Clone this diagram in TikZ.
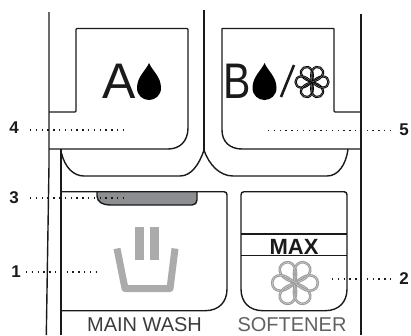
\documentclass[tikz,border=0pt]{standalone}
\usepackage{fontspec}
\setmainfont{Liberation Sans}
\definecolor{ink}{HTML}{1A1A1A}
\definecolor{tabgray}{HTML}{8C8E92}
\definecolor{icongray}{HTML}{ABABAB}
\definecolor{flowergray}{HTML}{9E9E9E}
\tikzset{
  wall/.style={draw=ink,line width=1.4pt,line join=round},
  lead/.style={draw=ink,line width=1.3pt,dash pattern=on 1.4pt off 4.4pt},
  num/.style={font=\bfseries\fontsize{17}{17}\selectfont,text=ink,inner sep=0pt},
  lab/.style={font=\fontsize{20}{20}\selectfont,inner sep=0pt,anchor=base},
  big/.style={font=\fontsize{50}{50}\selectfont,text=ink,inner sep=0pt,anchor=base},
  pics/drop/.style={code={\fill[black] (0,-18.5) .. controls (3,-11) and (12,-5) .. (12,6.5) .. controls (12,14) and (6,18.5) .. (0,18.5) .. controls (-6,18.5) and (-12,14) .. (-12,6.5) .. controls (-12,-5) and (-3,-11) .. (0,-18.5) -- cycle;}},
  pics/flower/.style n args={4}{code={
    \foreach \a in {30,90,...,330}{
      \begin{scope}[rotate=\a,scale=#1]
      \draw[draw=#2,line width=#3] (0,0) .. controls (-3,-3.5) and (-5.6,-7) .. (-5.6,-10.5) .. controls (-5.6,-14.5) and (-3,-16.5) .. (0,-16.5) .. controls (3,-16.5) and (5.6,-14.5) .. (5.6,-10.5) .. controls (5.6,-7) and (3,-3.5) .. (0,0) -- cycle;
      \draw[draw=#4,line width=.35pt] (0,0) .. controls (-3,-3.5) and (-5.6,-7) .. (-5.6,-10.5) .. controls (-5.6,-14.5) and (-3,-16.5) .. (0,-16.5) .. controls (3,-16.5) and (5.6,-14.5) .. (5.6,-10.5) .. controls (5.6,-7) and (3,-3.5) .. (0,0) -- cycle;
      \end{scope}}
  }}
}
\begin{document}
\begin{tikzpicture}[x=1pt,y=-1pt]
\useasboundingbox (0,0) rectangle (411,335);
% dispenser walls
\draw[wall] (49,12) -- (49,165) -- (46.3,335);
\draw[wall] (361,14) -- (361,335);
\draw[wall] (204,10) -- (204,150);
\draw[wall] (49,112) -- (75,112) -- (76,111) -- (76,29.5) -- (77,28.5) -- (187,28.5) -- (188,29.5) -- (188,128) .. controls (188,141) and (180,149) .. (168,149) -- (49,149);
\draw[wall] (361,112) -- (335,112) -- (334,111) -- (334,29) -- (333.5,28.5) -- (222,28.5) -- (222,130) .. controls (222,142) and (230,149) .. (242,149) -- (361,149);
% lower cup
\draw[wall] (61,149) -- (61,335);
\draw[wall] (61.5,153) .. controls (65,168) and (74,176) .. (84,176) -- (180,176) .. controls (191,176) and (199,165) .. (204,150);
\draw[wall] (204,150) .. controls (209,165) and (220,176) .. (233,176) -- (327,176) .. controls (338,176) and (346,165) .. (348,149);
% main wash compartment
\fill[tabgray] (97,192) -- (197,192) -- (197,200) .. controls (197,203) and (195,205) .. (192,205) -- (110,205) .. controls (103,205) and (97,202) .. (97,196) -- cycle;
\draw[wall] (97,192) -- (97,196) .. controls (97,202) and (103,205) .. (110,205) -- (192,205) .. controls (195,205) and (197,203) .. (197,200) -- (197,192);
\draw[wall] (61,191.7) -- (224,191.7) .. controls (226,191.7) and (227,193) .. (227,195) -- (227,289) .. controls (227,302) and (219,310.7) .. (205,310.7) -- (61,310.7);
% softener compartment
\draw[wall] (244,191.7) -- (344,191.7) .. controls (346,191.7) and (347,193) .. (347,195) -- (347,289) .. controls (347,302) and (339,310.7) .. (325,310.7) -- (263,310.7) .. controls (249,310.7) and (241,302) .. (241,289) -- (241,195) .. controls (241,193) and (242,191.7) .. (244,191.7) -- cycle;
\draw[wall] (241,234) -- (347,234);
\draw[wall] (241,255.7) -- (347,255.7);
% wash icon
\draw[icongray,line width=7pt,line join=round] (117,248.5) -- (125,288.5) -- (170,288.5) -- (175,248.5);
\fill[icongray] (135,227) rectangle (143.5,260);
\fill[icongray] (150,227) rectangle (158.5,260);
% softener flower
\pic at (295,283) {flower={1.38}{flowergray}{2.6pt}{white!85!black}};
\pic at (312,82) {flower={1}{black}{2.2pt}{white!60!black}};
% symbols
\node[big] (a) at (119,98) {A};
\pic at (149,81.5) {drop};
\node[big,xscale=.82,anchor=base west] (b) at (223,98) {B};
\pic at (264.5,81.5) {drop};
\draw[ink,line width=2.6pt] (281,97) -- (294,65);
% labels
\node[lab,text=ink!85] (mw) at (144.5,331) {MAIN WASH};
\node[lab,text=black!62] (sf) at (292,331) {SOFTENER};
\node[font=\bfseries\fontsize{22}{22}\selectfont,text=ink,inner sep=0pt,anchor=base] (mx) at (294,254) {MAX};
% callouts
\node[num] (n4) at (14,128) {4};
\node[num] (n5) at (404,130) {5};
\node[num] (n3) at (14,198) {3};
\node[num] (n1) at (16,272) {1};
\node[num] (n2) at (404,279) {2};
\coordinate (e4) at (127,130);
\coordinate (e5) at (268,130.7);
\coordinate (e3) at (127,198);
\coordinate (e1) at (98,272);
\coordinate (e2) at (332,279);
\draw[lead] (30,130) -- (e4);
\draw[lead] (e5) -- (392,130.7);
\draw[lead] (30,198) -- (e3);
\draw[lead] (26,272) -- (e1);
\draw[lead] (e2) -- (392,279);
\end{tikzpicture}
\end{document}
